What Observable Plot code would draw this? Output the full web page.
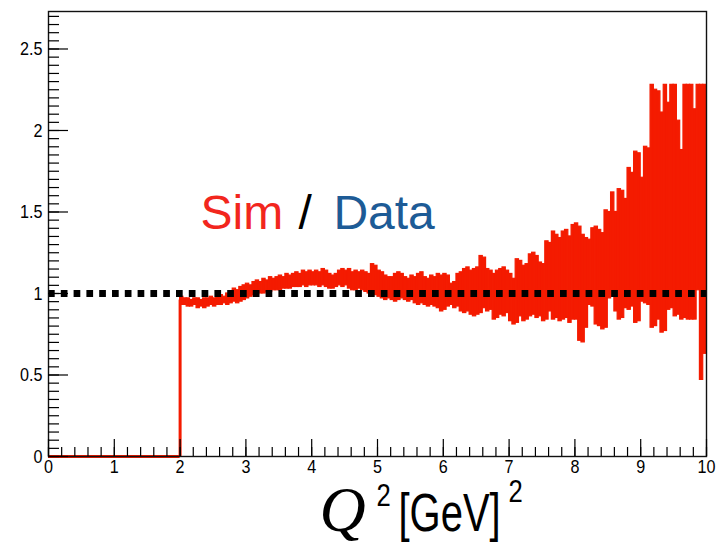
<!DOCTYPE html>
<html>
<head>
<meta charset="utf-8">
<script src="https://cdn.jsdelivr.net/npm/d3@7"></script>
<script src="https://cdn.jsdelivr.net/npm/@observablehq/plot@0.6"></script>
<style>
  html, body { margin: 0; padding: 0; background: #ffffff; }
  #chart { width: 725px; height: 546px; }
</style>
</head>
<body>
<div id="chart"></div>
<script>
// ---- data ----
const binStart = 2.0;     // first filled bin edge
const binWidth = 0.05;    // bin width in Q^2
// lower and upper ends of each bin's error bar (ratio Sim/Data), bins from 2.0 to 10.0
const ratioLow = [
  0.93,0.93,0.92,0.92,0.93,0.91,0.92,0.91,0.92,0.93, 0.92,0.93,0.93,0.94,0.93,0.94,0.95,0.94,0.95,0.96,
  0.97,0.98,0.99,0.99,1.00,1.00,1.01,1.01,1.02,1.02, 1.02,1.03,1.03,1.03,1.04,1.04,1.04,1.05,1.04,1.05,
  1.05,1.05,1.04,1.05,1.04,1.03,1.03,1.04,1.05,1.04, 1.05,1.03,1.02,1.02,1.03,1.02,1.01,1.00,1.01,0.99,
  0.98,0.97,0.96,0.97,0.96,0.95,0.96,0.97,0.96,0.95, 0.96,0.94,0.93,0.94,0.93,0.92,0.93,0.92,0.91,0.89,
  0.90,0.92,0.93,0.91,0.92,0.89,0.88,0.89,0.87,0.86, 0.87,0.88,0.91,0.89,0.90,0.84,0.85,0.87,0.86,0.88,
  0.83,0.81,0.82,0.86,0.83,0.84,0.86,0.87,0.85,0.86, 0.83,0.84,0.89,0.84,0.85,0.83,0.84,0.85,0.82,0.84,
  0.84,0.71,0.70,0.79,0.93,0.92,0.81,0.80,0.78,0.79, 0.97,0.98,0.89,0.84,0.85,0.91,0.90,0.92,0.82,0.83,
  0.95,0.94,0.93,0.79,0.80,0.84,0.76,0.77,0.90,0.91, 0.86,0.87,0.84,0.85,0.84,0.84,0.84,1.02,0.47,0.63
];
const ratioHigh = [
  0.98,0.97,0.97,0.96,0.97,0.97,0.96,0.97,0.97,0.98, 0.97,0.98,0.99,0.98,1.00,1.01,1.03,1.02,1.04,1.05,
  1.06,1.05,1.07,1.08,1.07,1.09,1.08,1.10,1.09,1.10, 1.11,1.10,1.12,1.11,1.12,1.13,1.12,1.14,1.13,1.14,
  1.13,1.14,1.13,1.15,1.14,1.12,1.11,1.12,1.14,1.15, 1.14,1.15,1.13,1.14,1.13,1.14,1.13,1.12,1.18,1.17,
  1.14,1.13,1.11,1.10,1.10,1.12,1.13,1.12,1.10,1.09, 1.11,1.10,1.12,1.13,1.10,1.09,1.11,1.10,1.12,1.11,
  1.12,1.11,1.06,1.07,1.12,1.13,1.15,1.16,1.14,1.15, 1.16,1.23,1.22,1.15,1.14,1.12,1.14,1.15,1.16,1.14,
  1.12,1.09,1.21,1.20,1.17,1.18,1.24,1.25,1.23,1.19, 1.18,1.32,1.31,1.38,1.36,1.34,1.38,1.39,1.35,1.42,
  1.43,1.41,1.36,1.34,1.33,1.40,1.41,1.39,1.37,1.51, 1.50,1.62,1.50,1.64,1.63,1.58,1.77,1.74,1.87,1.86,
  1.71,1.90,1.89,2.28,2.25,2.24,2.11,2.28,2.17,2.28, 2.28,2.06,1.88,2.28,2.28,2.28,2.13,2.28,2.28,2.28
];
const emptyRange = [0, 2];      // bins with ratio 0
const firstBinValue = 0.96;     // histogram step at Q^2 = 2
const referenceLevel = [1];     // dashed line at ratio 1

const xMajor = [0,1,2,3,4,5,6,7,8,9,10];
const xMinor = d3.range(0, 10.0001, 0.2).map(v => +v.toFixed(2));
const yMajor = [0, 0.5, 1, 1.5, 2, 2.5];
const yLabels = ["0", "0.5", "1", "1.5", "2", "2.5"];
const yMinor = d3.range(0, 2.7001, 0.05).map(v => +v.toFixed(2));

const legendWords = ["Sim", "/", "Data"];
const titleParts = ["Q", "2", "[GeV]", "2"];

// ---- table for the library ----
const bins = ratioLow.map((lo, i) => ({
  x1: binStart + i * binWidth,
  x2: binStart + (i + 1) * binWidth,
  lo, hi: ratioHigh[i]
}));

const RED = "#f41b00";
const SIM_RED = "#f2261d";
const DATA_BLUE = "#1d5b96";
const SANS = "'Liberation Sans',Arial,Helvetica,sans-serif";

const chart = Plot.plot({
  width: 725,
  height: 546,
  marginLeft: 48,
  marginRight: 19,
  marginTop: 11,
  marginBottom: 90,
  x: {domain: [0, 10]},
  y: {domain: [0, 2.73]},
  style: {fontFamily: SANS, background: "white", color: "black"},
  marks: [
    Plot.rect(bins, {x1: "x1", x2: "x2", y1: "lo", y2: "hi", fill: RED, stroke: RED, strokeWidth: 1.2}),
    Plot.ruleY([0], {x1: emptyRange[0], x2: emptyRange[1], stroke: RED, strokeWidth: 3}),
    Plot.ruleX([emptyRange[1]], {y1: 0, y2: firstBinValue, stroke: RED, strokeWidth: 3}),
    Plot.ruleY(referenceLevel, {stroke: "black", strokeWidth: 7, strokeDasharray: "6.7,6.1"}),
    Plot.frame({stroke: "#111", strokeWidth: 1.4}),
    // inward ticks
    Plot.axisY({ticks: yMinor, tickSize: -11, tickFormat: () => "", label: null, strokeWidth: 1.2}),
    Plot.axisY({ticks: yMajor, tickSize: -20, tickFormat: () => "", label: null, strokeWidth: 1.2}),
    Plot.axisX({ticks: xMinor, tickSize: -9, tickFormat: () => "", label: null, strokeWidth: 1.2}),
    Plot.axisX({ticks: xMajor, tickSize: -17, tickFormat: () => "", label: null, strokeWidth: 1.2}),
    // tick labels
    Plot.axisY({ticks: yMajor, tickSize: 0, tickPadding: 6, tickFormat: (d, i) => yLabels[i], fontSize: 19, label: null}),
    Plot.axisX({ticks: xMajor, tickSize: 0, tickPadding: 3, tickFormat: d => String(d), fontSize: 19, label: null}),
    // "Sim / Data"
    Plot.text([legendWords[0]], {x: 2.31, y: 1.49, text: d => d, textAnchor: "start", fill: SIM_RED, fontSize: 48}),
    Plot.text([legendWords[1]], {x: 3.80, y: 1.49, text: d => d, textAnchor: "start", fill: "black", fontSize: 48}),
    Plot.text([legendWords[2]], {x: 4.33, y: 1.49, text: d => d, textAnchor: "start", fill: DATA_BLUE, fontSize: 48}),
    // axis title  Q^2 [GeV]^2
    Plot.text([titleParts[0]], {frameAnchor: "bottom", dx: -58, dy: 74, lineAnchor: "bottom", textAnchor: "start", text: d => d, fontSize: 64, fontStyle: "italic", fontFamily: "'Liberation Serif','Times New Roman',serif", fill: "black"}),
    Plot.text([titleParts[1]], {frameAnchor: "bottom", dx: -1, dy: 49, lineAnchor: "bottom", textAnchor: "start", text: d => d, fontSize: 32, fill: "black"}),
    Plot.text([titleParts[2]], {frameAnchor: "bottom", dx: 21, dy: 74, lineAnchor: "bottom", textAnchor: "start", text: d => d, fontSize: 54, fill: "black"}),
    Plot.text([titleParts[3]], {frameAnchor: "bottom", dx: 131, dy: 45, lineAnchor: "bottom", textAnchor: "start", text: d => d, fontSize: 32, fill: "black"})
  ]
});
document.getElementById("chart").appendChild(chart);

// condense the sans-serif axis lettering (the reference uses a narrow face)
function condense(sel, factor) {
  sel.each(function () {
    const len = this.getComputedTextLength();
    if (len > 0) {
      this.setAttribute("textLength", (len * factor).toFixed(2));
      this.setAttribute("lengthAdjust", "spacingAndGlyphs");
    }
  });
}
const svg = d3.select(chart);
condense(svg.selectAll('g[aria-label="x-axis tick label"] text'), 0.85);
condense(svg.selectAll('g[aria-label="y-axis tick label"] text'), 0.85);
condense(svg.selectAll('g[aria-label="text"] text').filter(function () {
  const t = this.textContent; return t === "[GeV]";
}), 0.74);
condense(svg.selectAll('g[aria-label="text"] text').filter(function () {
  const t = this.textContent; return t === "2";
}), 0.8);
</script>
</body>
</html>
